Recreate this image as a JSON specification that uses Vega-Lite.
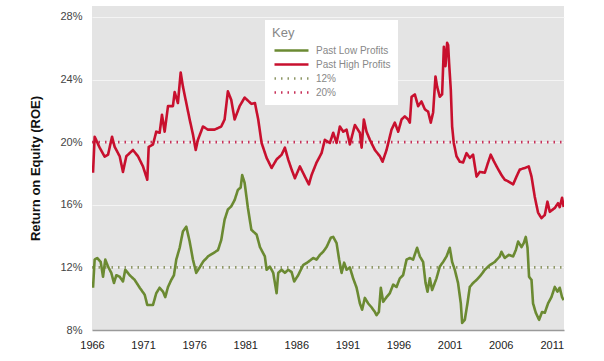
{
  "$schema": "https://vega.github.io/schema/vega-lite/v6.json",
  "width": 472,
  "height": 324,
  "autosize": "none",
  "padding": {"left": 92, "top": 6, "right": 40, "bottom": 31},
  "background": "white",
  "config": {
    "font": "Liberation Sans",
    "view": {"fill": "#e4e4e4", "stroke": null}
  },
  "data": {"values": [
    {"series": "12%", "year": 1966, "roe": 12},
    {"series": "12%", "year": 2012.2, "roe": 12},
    {"series": "20%", "year": 1966, "roe": 20},
    {"series": "20%", "year": 2012.2, "roe": 20},
    {"series":"Past High Profits","year":1966.1,"roe":18.05},{"series":"Past High Profits","year":1966.26,"roe":20.35},{"series":"Past High Profits","year":1966.75,"roe":19.65},{"series":"Past High Profits","year":1967.24,"roe":19.07},{"series":"Past High Profits","year":1967.57,"roe":19.2},{"series":"Past High Profits","year":1967.96,"roe":20.35},{"series":"Past High Profits","year":1968.22,"roe":19.7},{"series":"Past High Profits","year":1968.71,"roe":19.1},{"series":"Past High Profits","year":1969.03,"roe":18.1},{"series":"Past High Profits","year":1969.36,"roe":19.1},{"series":"Past High Profits","year":1970.01,"roe":19.5},{"series":"Past High Profits","year":1970.5,"roe":19.1},{"series":"Past High Profits","year":1970.99,"roe":18.45},{"series":"Past High Profits","year":1971.41,"roe":17.6},{"series":"Past High Profits","year":1971.55,"roe":19.7},{"series":"Past High Profits","year":1971.97,"roe":19.85},{"series":"Past High Profits","year":1972.29,"roe":20.67},{"series":"Past High Profits","year":1972.62,"roe":20.6},{"series":"Past High Profits","year":1972.85,"roe":21.75},{"series":"Past High Profits","year":1973.11,"roe":20.67},{"series":"Past High Profits","year":1973.44,"roe":22.3},{"series":"Past High Profits","year":1973.92,"roe":22.3},{"series":"Past High Profits","year":1974.09,"roe":23.2},{"series":"Past High Profits","year":1974.41,"roe":22.5},{"series":"Past High Profits","year":1974.68,"roe":24.45},{"series":"Past High Profits","year":1974.9,"roe":23.55},{"series":"Past High Profits","year":1975.23,"roe":22.5},{"series":"Past High Profits","year":1975.56,"roe":21.45},{"series":"Past High Profits","year":1975.88,"roe":20.5},{"series":"Past High Profits","year":1976.15,"roe":19.5},{"series":"Past High Profits","year":1976.37,"roe":20.15},{"series":"Past High Profits","year":1976.86,"roe":21},{"series":"Past High Profits","year":1977.35,"roe":20.8},{"series":"Past High Profits","year":1978.0,"roe":20.8},{"series":"Past High Profits","year":1978.65,"roe":21},{"series":"Past High Profits","year":1978.98,"roe":21.45},{"series":"Past High Profits","year":1979.3,"roe":23.25},{"series":"Past High Profits","year":1979.63,"roe":22.7},{"series":"Past High Profits","year":1979.96,"roe":21.45},{"series":"Past High Profits","year":1980.45,"roe":22.3},{"series":"Past High Profits","year":1980.94,"roe":22.85},{"series":"Past High Profits","year":1981.6,"roe":22.45},{"series":"Past High Profits","year":1981.95,"roe":22.5},{"series":"Past High Profits","year":1982.27,"roe":21.45},{"series":"Past High Profits","year":1982.6,"roe":19.95},{"series":"Past High Profits","year":1983.09,"roe":19},{"series":"Past High Profits","year":1983.58,"roe":18.35},{"series":"Past High Profits","year":1984.07,"roe":18.9},{"series":"Past High Profits","year":1984.56,"roe":19.2},{"series":"Past High Profits","year":1984.88,"roe":19.65},{"series":"Past High Profits","year":1985.2,"roe":18.9},{"series":"Past High Profits","year":1985.54,"roe":18.25},{"series":"Past High Profits","year":1985.86,"roe":17.7},{"series":"Past High Profits","year":1986.35,"roe":18.45},{"series":"Past High Profits","year":1986.84,"roe":17.8},{"series":"Past High Profits","year":1987.23,"roe":17.3},{"series":"Past High Profits","year":1987.49,"roe":17.9},{"series":"Past High Profits","year":1987.98,"roe":18.7},{"series":"Past High Profits","year":1988.47,"roe":19.3},{"series":"Past High Profits","year":1988.79,"roe":20.15},{"series":"Past High Profits","year":1989.28,"roe":19.95},{"series":"Past High Profits","year":1989.61,"roe":20.6},{"series":"Past High Profits","year":1989.94,"roe":19.95},{"series":"Past High Profits","year":1990.26,"roe":21},{"series":"Past High Profits","year":1990.59,"roe":20.67},{"series":"Past High Profits","year":1990.92,"roe":20.8},{"series":"Past High Profits","year":1991.24,"roe":19.85},{"series":"Past High Profits","year":1991.73,"roe":21.1},{"series":"Past High Profits","year":1992.22,"roe":20.6},{"series":"Past High Profits","year":1992.39,"roe":19.65},{"series":"Past High Profits","year":1992.61,"roe":21.45},{"series":"Past High Profits","year":1992.87,"roe":20.67},{"series":"Past High Profits","year":1993.2,"roe":20.15},{"series":"Past High Profits","year":1993.69,"roe":19.5},{"series":"Past High Profits","year":1994.18,"roe":19.1},{"series":"Past High Profits","year":1994.44,"roe":18.75},{"series":"Past High Profits","year":1994.83,"roe":19.5},{"series":"Past High Profits","year":1995.32,"roe":20.8},{"series":"Past High Profits","year":1995.64,"roe":21.25},{"series":"Past High Profits","year":1995.97,"roe":20.67},{"series":"Past High Profits","year":1996.3,"roe":21.45},{"series":"Past High Profits","year":1996.62,"roe":21.65},{"series":"Past High Profits","year":1996.94,"roe":21.45},{"series":"Past High Profits","year":1997.11,"roe":21.25},{"series":"Past High Profits","year":1997.28,"roe":22.9},{"series":"Past High Profits","year":1997.6,"roe":23.05},{"series":"Past High Profits","year":1997.92,"roe":22.3},{"series":"Past High Profits","year":1998.25,"roe":22.6},{"series":"Past High Profits","year":1998.58,"roe":22.1},{"series":"Past High Profits","year":1998.9,"roe":21.95},{"series":"Past High Profits","year":1999.16,"roe":21.25},{"series":"Past High Profits","year":1999.39,"roe":21.9},{"series":"Past High Profits","year":1999.62,"roe":24.2},{"series":"Past High Profits","year":1999.78,"roe":23.55},{"series":"Past High Profits","year":2000.04,"roe":22.9},{"series":"Past High Profits","year":2000.27,"roe":23.05},{"series":"Past High Profits","year":2000.44,"roe":26.1},{"series":"Past High Profits","year":2000.6,"roe":24.85},{"series":"Past High Profits","year":2000.76,"roe":26.35},{"series":"Past High Profits","year":2000.86,"roe":26.2},{"series":"Past High Profits","year":2000.95,"roe":25.1},{"series":"Past High Profits","year":2001.12,"roe":23.35},{"series":"Past High Profits","year":2001.25,"roe":21},{"series":"Past High Profits","year":2001.41,"roe":19.95},{"series":"Past High Profits","year":2001.68,"roe":19.1},{"series":"Past High Profits","year":2002.0,"roe":18.75},{"series":"Past High Profits","year":2002.32,"roe":18.7},{"series":"Past High Profits","year":2002.66,"roe":19.3},{"series":"Past High Profits","year":2002.98,"roe":19},{"series":"Past High Profits","year":2003.3,"roe":19.2},{"series":"Past High Profits","year":2003.64,"roe":17.8},{"series":"Past High Profits","year":2003.96,"roe":18.1},{"series":"Past High Profits","year":2004.45,"roe":18.05},{"series":"Past High Profits","year":2004.77,"roe":18.7},{"series":"Past High Profits","year":2005.03,"roe":19.2},{"series":"Past High Profits","year":2005.36,"roe":18.75},{"series":"Past High Profits","year":2005.69,"roe":18.35},{"series":"Past High Profits","year":2006.08,"roe":17.9},{"series":"Past High Profits","year":2006.4,"roe":17.6},{"series":"Past High Profits","year":2006.73,"roe":17.5},{"series":"Past High Profits","year":2007.22,"roe":17.3},{"series":"Past High Profits","year":2007.55,"roe":17.8},{"series":"Past High Profits","year":2007.87,"roe":18.25},{"series":"Past High Profits","year":2008.36,"roe":18.35},{"series":"Past High Profits","year":2008.75,"roe":18.45},{"series":"Past High Profits","year":2009.02,"roe":17.8},{"series":"Past High Profits","year":2009.34,"roe":16.5},{"series":"Past High Profits","year":2009.66,"roe":15.5},{"series":"Past High Profits","year":2009.99,"roe":15.15},{"series":"Past High Profits","year":2010.32,"roe":15.35},{"series":"Past High Profits","year":2010.58,"roe":16.2},{"series":"Past High Profits","year":2010.81,"roe":15.55},{"series":"Past High Profits","year":2011.3,"roe":15.8},{"series":"Past High Profits","year":2011.62,"roe":16.1},{"series":"Past High Profits","year":2011.78,"roe":15.85},{"series":"Past High Profits","year":2012.01,"roe":16.45},{"series":"Past High Profits","year":2012.17,"roe":15.85},
    {"series":"Past Low Profits","year":1966.1,"roe":10.7},{"series":"Past Low Profits","year":1966.26,"roe":12.5},{"series":"Past Low Profits","year":1966.52,"roe":12.6},{"series":"Past Low Profits","year":1966.85,"roe":12.35},{"series":"Past Low Profits","year":1967.08,"roe":11.4},{"series":"Past Low Profits","year":1967.3,"roe":12.5},{"series":"Past Low Profits","year":1967.57,"roe":12.05},{"series":"Past Low Profits","year":1967.89,"roe":11.65},{"series":"Past Low Profits","year":1968.15,"roe":11},{"series":"Past Low Profits","year":1968.38,"roe":11.5},{"series":"Past Low Profits","year":1968.71,"roe":11.4},{"series":"Past Low Profits","year":1969.03,"roe":11.1},{"series":"Past Low Profits","year":1969.26,"roe":11.85},{"series":"Past Low Profits","year":1969.69,"roe":11.5},{"series":"Past Low Profits","year":1970.18,"roe":11.2},{"series":"Past Low Profits","year":1970.67,"roe":10.7},{"series":"Past Low Profits","year":1971.16,"roe":10.25},{"series":"Past Low Profits","year":1971.41,"roe":9.6},{"series":"Past Low Profits","year":1971.97,"roe":9.6},{"series":"Past Low Profits","year":1972.29,"roe":10.35},{"series":"Past Low Profits","year":1972.62,"roe":10.7},{"series":"Past Low Profits","year":1972.95,"roe":10.45},{"series":"Past Low Profits","year":1973.17,"roe":10.1},{"series":"Past Low Profits","year":1973.44,"roe":10.75},{"series":"Past Low Profits","year":1973.76,"roe":11.2},{"series":"Past Low Profits","year":1974.02,"roe":11.5},{"series":"Past Low Profits","year":1974.25,"roe":12.5},{"series":"Past Low Profits","year":1974.58,"roe":13.25},{"series":"Past Low Profits","year":1974.9,"roe":14.3},{"series":"Past Low Profits","year":1975.23,"roe":14.6},{"series":"Past Low Profits","year":1975.56,"roe":13.65},{"series":"Past Low Profits","year":1975.88,"roe":12.5},{"series":"Past Low Profits","year":1976.2,"roe":11.65},{"series":"Past Low Profits","year":1976.54,"roe":12},{"series":"Past Low Profits","year":1976.86,"roe":12.35},{"series":"Past Low Profits","year":1977.35,"roe":12.7},{"series":"Past Low Profits","year":1977.84,"roe":12.9},{"series":"Past Low Profits","year":1978.33,"roe":13.1},{"series":"Past Low Profits","year":1978.65,"roe":13.75},{"series":"Past Low Profits","year":1978.98,"roe":15.05},{"series":"Past Low Profits","year":1979.3,"roe":15.7},{"series":"Past Low Profits","year":1979.63,"roe":15.9},{"series":"Past Low Profits","year":1979.96,"roe":16.3},{"series":"Past Low Profits","year":1980.28,"roe":16.95},{"series":"Past Low Profits","year":1980.55,"roe":17.1},{"series":"Past Low Profits","year":1980.7,"roe":17.9},{"series":"Past Low Profits","year":1980.94,"roe":17.4},{"series":"Past Low Profits","year":1981.26,"roe":15.8},{"series":"Past Low Profits","year":1981.6,"roe":14.4},{"series":"Past Low Profits","year":1982.11,"roe":14.1},{"series":"Past Low Profits","year":1982.44,"roe":13.3},{"series":"Past Low Profits","year":1982.92,"roe":12.7},{"series":"Past Low Profits","year":1983.09,"roe":11.85},{"series":"Past Low Profits","year":1983.41,"roe":12.05},{"series":"Past Low Profits","year":1983.74,"roe":11.65},{"series":"Past Low Profits","year":1984.07,"roe":10.35},{"series":"Past Low Profits","year":1984.23,"roe":11.65},{"series":"Past Low Profits","year":1984.56,"roe":11.85},{"series":"Past Low Profits","year":1984.88,"roe":11.65},{"series":"Past Low Profits","year":1985.2,"roe":11.85},{"series":"Past Low Profits","year":1985.54,"roe":11.7},{"series":"Past Low Profits","year":1985.79,"roe":11.1},{"series":"Past Low Profits","year":1986.18,"roe":11.5},{"series":"Past Low Profits","year":1986.67,"roe":12.15},{"series":"Past Low Profits","year":1987.16,"roe":12.35},{"series":"Past Low Profits","year":1987.65,"roe":12.6},{"series":"Past Low Profits","year":1987.98,"roe":12.5},{"series":"Past Low Profits","year":1988.31,"roe":12.8},{"series":"Past Low Profits","year":1988.63,"roe":13},{"series":"Past Low Profits","year":1988.96,"roe":13.3},{"series":"Past Low Profits","year":1989.38,"roe":13.9},{"series":"Past Low Profits","year":1989.61,"roe":13.95},{"series":"Past Low Profits","year":1989.94,"roe":13.55},{"series":"Past Low Profits","year":1990.19,"roe":12.5},{"series":"Past Low Profits","year":1990.43,"roe":11.65},{"series":"Past Low Profits","year":1990.68,"roe":12.3},{"series":"Past Low Profits","year":1990.92,"roe":11.85},{"series":"Past Low Profits","year":1991.24,"roe":12},{"series":"Past Low Profits","year":1991.56,"roe":11.3},{"series":"Past Low Profits","year":1991.9,"roe":10.7},{"series":"Past Low Profits","year":1992.22,"roe":9.7},{"series":"Past Low Profits","year":1992.44,"roe":9.3},{"series":"Past Low Profits","year":1992.71,"roe":10.05},{"series":"Past Low Profits","year":1993.03,"roe":9.7},{"series":"Past Low Profits","year":1993.36,"roe":9.45},{"series":"Past Low Profits","year":1993.69,"roe":9.15},{"series":"Past Low Profits","year":1993.85,"roe":8.95},{"series":"Past Low Profits","year":1994.08,"roe":9.15},{"series":"Past Low Profits","year":1994.27,"roe":10.7},{"series":"Past Low Profits","year":1994.5,"roe":9.8},{"series":"Past Low Profits","year":1994.83,"roe":10.1},{"series":"Past Low Profits","year":1995.15,"roe":10.35},{"series":"Past Low Profits","year":1995.48,"roe":10.9},{"series":"Past Low Profits","year":1995.81,"roe":10.75},{"series":"Past Low Profits","year":1996.13,"roe":11.3},{"series":"Past Low Profits","year":1996.45,"roe":11.5},{"series":"Past Low Profits","year":1996.79,"roe":12.5},{"series":"Past Low Profits","year":1997.11,"roe":12.6},{"series":"Past Low Profits","year":1997.43,"roe":12.5},{"series":"Past Low Profits","year":1997.82,"roe":13.25},{"series":"Past Low Profits","year":1998.09,"roe":12.7},{"series":"Past Low Profits","year":1998.41,"roe":12.35},{"series":"Past Low Profits","year":1998.65,"roe":11},{"series":"Past Low Profits","year":1998.84,"roe":10.45},{"series":"Past Low Profits","year":1999.07,"roe":11.3},{"series":"Past Low Profits","year":1999.29,"roe":10.55},{"series":"Past Low Profits","year":1999.72,"roe":11.3},{"series":"Past Low Profits","year":2000.04,"roe":12.05},{"series":"Past Low Profits","year":2000.37,"roe":12.35},{"series":"Past Low Profits","year":2000.7,"roe":12.7},{"series":"Past Low Profits","year":2001.02,"roe":13.25},{"series":"Past Low Profits","year":2001.25,"roe":12.35},{"series":"Past Low Profits","year":2001.51,"roe":11.85},{"series":"Past Low Profits","year":2001.83,"roe":11},{"series":"Past Low Profits","year":2002.1,"roe":9.7},{"series":"Past Low Profits","year":2002.23,"roe":8.45},{"series":"Past Low Profits","year":2002.49,"roe":8.65},{"series":"Past Low Profits","year":2002.75,"roe":9.7},{"series":"Past Low Profits","year":2002.98,"roe":10.75},{"series":"Past Low Profits","year":2003.3,"roe":11},{"series":"Past Low Profits","year":2003.64,"roe":11.2},{"series":"Past Low Profits","year":2004.06,"roe":11.5},{"series":"Past Low Profits","year":2004.45,"roe":11.85},{"series":"Past Low Profits","year":2004.94,"roe":12.15},{"series":"Past Low Profits","year":2005.43,"roe":12.35},{"series":"Past Low Profits","year":2005.91,"roe":12.7},{"series":"Past Low Profits","year":2006.08,"roe":13},{"series":"Past Low Profits","year":2006.4,"roe":12.6},{"series":"Past Low Profits","year":2006.8,"roe":12.8},{"series":"Past Low Profits","year":2007.22,"roe":12.7},{"series":"Past Low Profits","year":2007.48,"roe":13.1},{"series":"Past Low Profits","year":2007.71,"roe":13.65},{"series":"Past Low Profits","year":2008.04,"roe":13.3},{"series":"Past Low Profits","year":2008.26,"roe":13.55},{"series":"Past Low Profits","year":2008.46,"roe":13.95},{"series":"Past Low Profits","year":2008.63,"roe":13.25},{"series":"Past Low Profits","year":2008.78,"roe":11.4},{"series":"Past Low Profits","year":2009.02,"roe":11.2},{"series":"Past Low Profits","year":2009.17,"roe":9.7},{"series":"Past Low Profits","year":2009.44,"roe":9.1},{"series":"Past Low Profits","year":2009.76,"roe":8.65},{"series":"Past Low Profits","year":2010.05,"roe":9.15},{"series":"Past Low Profits","year":2010.32,"roe":9.1},{"series":"Past Low Profits","year":2010.64,"roe":9.7},{"series":"Past Low Profits","year":2010.97,"roe":10.1},{"series":"Past Low Profits","year":2011.3,"roe":10.75},{"series":"Past Low Profits","year":2011.56,"roe":10.45},{"series":"Past Low Profits","year":2011.78,"roe":10.7},{"series":"Past Low Profits","year":2012.01,"roe":10.1},{"series":"Past Low Profits","year":2012.17,"roe":9.9}
  ]},
  "mark": {"type": "line", "clip": true, "strokeJoin": "round"},
  "encoding": {
    "x": {
      "field": "year", "type": "quantitative",
      "scale": {"domain": [1966, 2012.2], "nice": false, "zero": false},
      "axis": {
        "values": [1966, 1971, 1976, 1981, 1986, 1991, 1996, 2001, 2006, 2011],
        "format": "d", "title": null, "grid": false, "ticks": false,
        "labelFlush": false, "labelOverlap": false,
        "domainColor": "#9a9a9a", "domainWidth": 1.5,
        "labelColor": "#222", "labelFontSize": 11, "labelPadding": 9
      }
    },
    "y": {
      "field": "roe", "type": "quantitative",
      "scale": {"domain": [8, 28.7], "nice": false, "zero": false},
      "axis": {
        "values": [8, 12, 16, 20, 24, 28],
        "labelExpr": "datum.value + '%'",
        "title": "Return on Equity (ROE)",
        "titleFontSize": 13, "titleFontWeight": "bold", "titleColor": "#111",
        "titlePadding": 17,
        "ticks": false, "domain": false,
        "gridColor": "#f4f4f4", "gridWidth": 1,
        "labelColor": "#444", "labelFontSize": 11, "labelPadding": 10
      }
    },
    "color": {
      "field": "series", "type": "nominal",
      "scale": {
        "domain": ["Past Low Profits", "Past High Profits", "12%", "20%"],
        "range": ["#6b8a32", "#c8102e", "#8f9868", "#c8325a"]
      },
      "legend": {
        "title": "Key", "orient": "none", "legendX": 173, "legendY": 14,
        "fillColor": "white", "padding": 7,
        "titleColor": "#888", "titleFontSize": 13, "titleFontWeight": "normal", "titlePadding": 2,
        "labelColor": "#888", "labelFontSize": 10, "labelOffset": 16,
        "symbolType": "M-2.5,0H2.5", "symbolSize": 185, "symbolStrokeWidth": 2.5, "symbolOffset": 11,
        "rowPadding": 0
      }
    },
    "strokeDash": {
      "field": "series", "type": "nominal",
      "scale": {
        "domain": ["Past Low Profits", "Past High Profits", "12%", "20%"],
        "range": [[1, 0], [1, 0], [1.5, 5], [1.5, 5]]
      },
      "legend": {
        "title": "Key", "orient": "none", "legendX": 173, "legendY": 14,
        "fillColor": "white", "padding": 7,
        "titleColor": "#888", "titleFontSize": 13, "titleFontWeight": "normal", "titlePadding": 2,
        "labelColor": "#888", "labelFontSize": 10, "labelOffset": 16,
        "symbolType": "M-2.5,0H2.5", "symbolSize": 185, "symbolStrokeWidth": 2.5, "symbolOffset": 11,
        "rowPadding": 0
      }
    },
    "strokeWidth": {
      "field": "series", "type": "nominal",
      "scale": {
        "domain": ["Past Low Profits", "Past High Profits", "12%", "20%"],
        "range": [2.6, 2.6, 1.5, 1.5]
      },
      "legend": null
    }
  }
}
